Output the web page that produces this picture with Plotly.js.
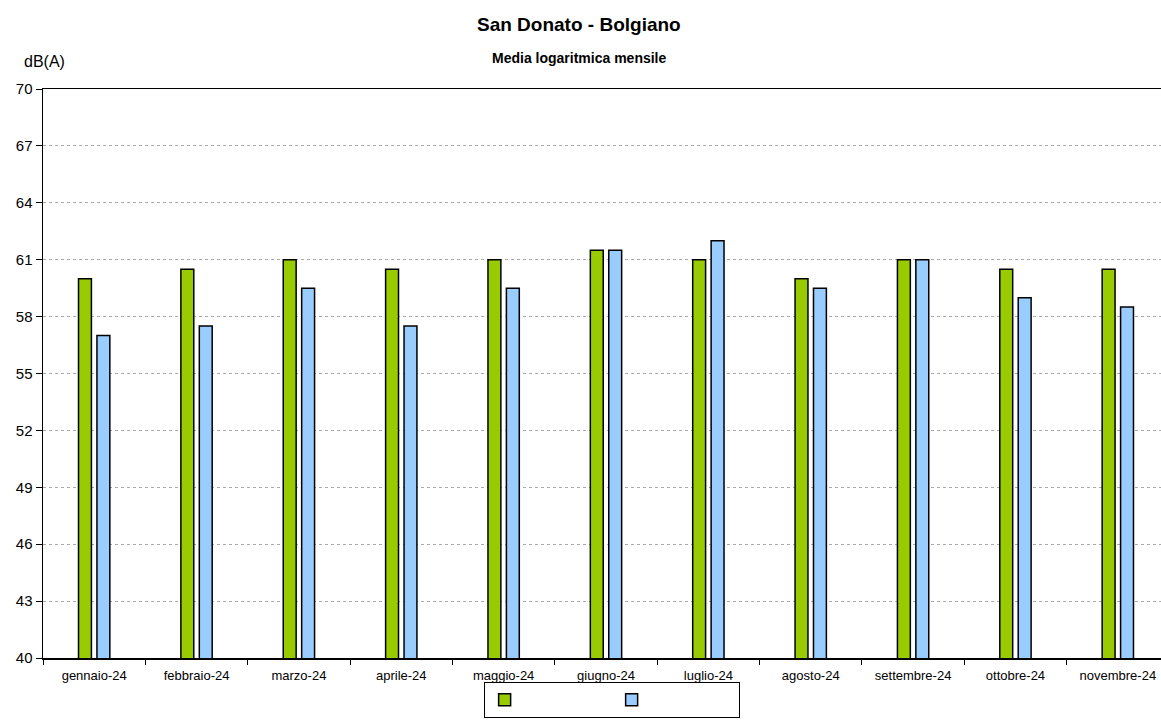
<!DOCTYPE html>
<html>
<head>
<meta charset="utf-8">
<script src="https://cdn.plot.ly/plotly-3.0.1.min.js"></script>
<style>
html,body{margin:0;padding:0;overflow:hidden;background:#fff;}
#chart{width:1175px;height:723px;}
</style>
</head>
<body>
<div id="chart"></div>
<script>
const months = ["gennaio-24","febbraio-24","marzo-24","aprile-24","maggio-24","giugno-24","luglio-24","agosto-24","settembre-24","ottobre-24","novembre-24"];
const seriesGreen = [60, 60.5, 61, 60.5, 61, 61.5, 61, 60, 61, 60.5, 60.5];
const seriesBlue = [57, 57.5, 59.5, 57.5, 59.5, 61.5, 62, 59.5, 61, 59, 58.5];
const yTicks = [40, 43, 46, 49, 52, 55, 58, 61, 64, 67, 70];

const traces = [
  {type:"bar", x:months, y:seriesGreen, name:" ", marker:{color:"#99cc00", line:{color:"#000", width:1.5}}},
  {type:"bar", x:months, y:seriesBlue, name:"  ", marker:{color:"#99ccff", line:{color:"#000", width:1.5}}}
];

const layout = {
  width:1175, height:723,
  margin:{l:43, r:6, t:89, b:64},
  paper_bgcolor:"#fff", plot_bgcolor:"#fff",
  font:{family:"Arial, Liberation Sans, sans-serif", color:"#000"},
  barmode:"group", bargap:0.64, bargroupgap:0.3,
  showlegend:true,
  legend:{orientation:"h", x:0.505, xanchor:"center", y:-0.04, yanchor:"top",
          bordercolor:"#000", borderwidth:1, entrywidth:82, font:{size:16}},
  xaxis:{type:"category", tickson:"boundaries", ticks:"outside", ticklen:5, tickcolor:"#000",
         showline:true, linecolor:"#000", linewidth:1.5, mirror:true, showgrid:false,
         tickfont:{size:13}, ticklabelstandoff:5, automargin:false},
  yaxis:{range:[40,70], tickmode:"array", tickvals:yTicks, ticktext:yTicks.map(String),
         ticks:"outside", ticklen:6, tickcolor:"#000", showline:true, linecolor:"#000", linewidth:1.5,
         showgrid:true, gridcolor:"#aaa", griddash:"dot", gridwidth:1, zeroline:false,
         tickfont:{size:15}, automargin:false},
  annotations:[
    {text:"<b>San Donato - Bolgiano</b>", xref:"paper", yref:"paper", x:0.476, xanchor:"center", y:1.114, yanchor:"middle",
     showarrow:false, font:{size:19}},
    {text:"<b>Media logaritmica mensile</b>", xref:"paper", yref:"paper", x:0.476, xanchor:"center", y:1.054, yanchor:"middle",
     showarrow:false, font:{size:14}},
    {text:"dB(A)", xref:"paper", yref:"paper", x:-0.019, xanchor:"left", y:1.03, yanchor:"bottom",
     showarrow:false, font:{size:16}}]
};

Plotly.newPlot("chart", traces, layout, {displayModeBar:false, staticPlot:true});
</script>
</body>
</html>
